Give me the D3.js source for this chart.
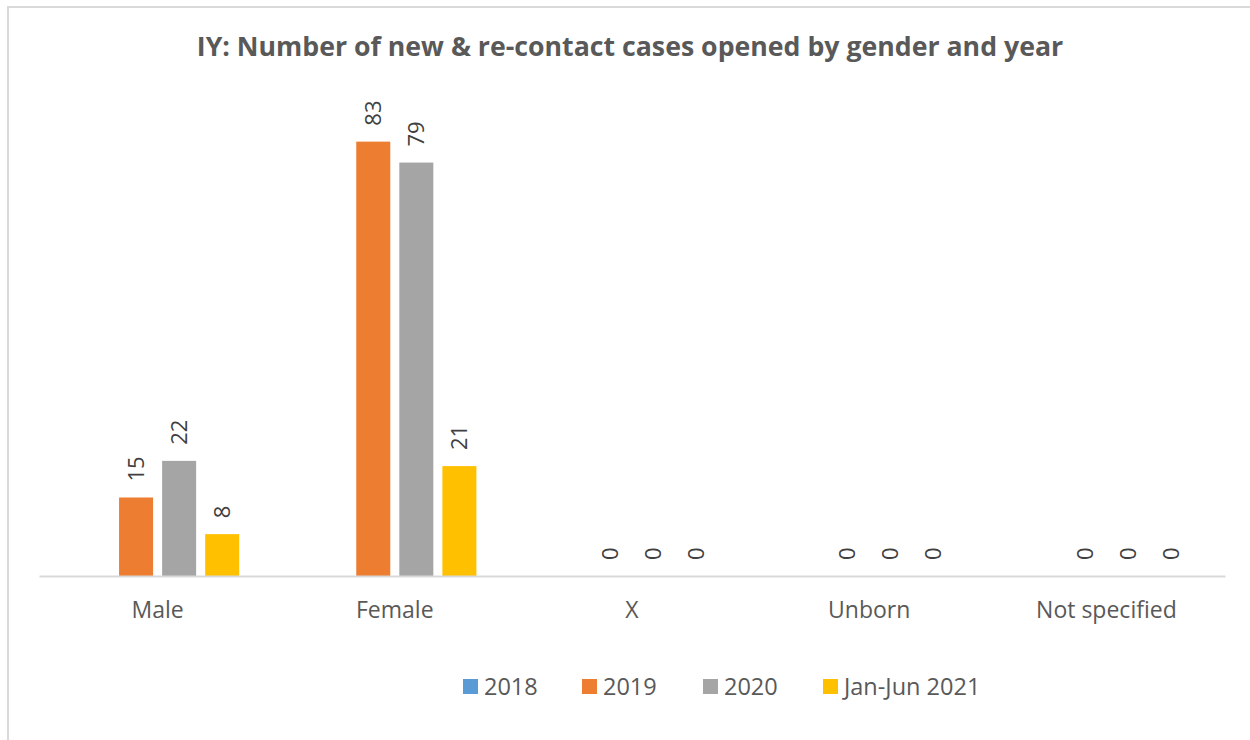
<!DOCTYPE html>
<html>
<head>
<meta charset="utf-8">
<script src="https://cdn.jsdelivr.net/npm/d3@7"></script>
<style>
  body { margin: 0; background: #fff; }
  svg text { font-family: "Open Sans", sans-serif; }
</style>
</head>
<body>
<svg width="1250" height="740"></svg>
<script>
var categories = ["Male", "Female", "X", "Unborn", "Not specified"];
var seriesNames = ["2018", "2019", "2020", "Jan-Jun 2021"];
var v2018 = [null, null, null, null, null];
var v2019 = [15, 83, 0, 0, 0];
var v2020 = [22, 79, 0, 0, 0];
var v2021 = [8, 21, 0, 0, 0];
var seriesValues = [v2018, v2019, v2020, v2021];

var svg = d3.select("svg");

// chart frame
svg.append("rect")
    .attr("x", 8).attr("y", 7)
    .attr("width", 1260).attr("height", 760)
    .attr("fill", "none")
    .attr("stroke", "#d9d9d9")
    .attr("stroke-width", 2);

var x0 = d3.scaleBand()
    .domain(categories)
    .range([39, 1225]);

var x1 = d3.scaleBand()
    .domain(seriesNames)
    .range([x0.bandwidth() * 0.156, x0.bandwidth() * 0.844])
    .paddingInner(0.21);

var y = d3.scaleLinear()
    .domain([0, 90])
    .range([576, 105]);

var color = d3.scaleOrdinal()
    .domain(seriesNames)
    .range(["#5B9BD5", "#ED7D31", "#A5A5A5", "#FFC000"]);

// title
svg.append("text")
    .attr("x", 630)
    .attr("y", 56)
    .attr("text-anchor", "middle")
    .attr("fill", "#595959")
    .style("font-size", "26.7px")
    .style("font-weight", "bold")
    .text("IY: Number of new & re-contact cases opened by gender and year");

var rows = [];
seriesNames.forEach(function(s, i) {
  categories.forEach(function(c, j) {
    rows.push({series: s, cat: c, value: seriesValues[i][j]});
  });
});
var present = rows.filter(function(d) { return d.value !== null; });

var g = svg.append("g");

g.selectAll("rect.bar")
  .data(present)
  .enter().append("rect")
    .attr("class", "bar")
    .attr("x", function(d) { return x0(d.cat) + x1(d.series); })
    .attr("y", function(d) { return y(d.value); })
    .attr("width", x1.bandwidth())
    .attr("height", function(d) { return y(0) - y(d.value); })
    .attr("fill", function(d) { return color(d.series); });

// baseline axis
var axis = svg.append("g")
    .attr("transform", "translate(0," + y(0) + ")")
    .call(d3.axisBottom(x0).tickSize(0).tickPadding(26));
axis.select(".domain").attr("stroke", "#d9d9d9").attr("stroke-width", 2);
axis.selectAll("text")
    .attr("fill", "#595959")
    .style("font-size", "23px")
    .style("font-family", "'Open Sans', sans-serif");

// rotated value labels
g.selectAll("text.lbl")
  .data(present)
  .enter().append("text")
    .attr("class", "lbl")
    .attr("transform", function(d) {
      var cx = x0(d.cat) + x1(d.series) + x1.bandwidth() / 2;
      return "translate(" + cx + "," + (y(d.value) - 16) + ") rotate(-90)";
    })
    .attr("dy", "0.35em")
    .attr("fill", "#404040")
    .style("font-size", "22px")
    .text(function(d) { return d.value; });

// legend
var legendX = [463, 582, 703, 823];
var legend = svg.append("g").selectAll("g")
  .data(seriesNames)
  .enter().append("g")
    .attr("transform", function(d, i) { return "translate(" + legendX[i] + ",679)"; });

legend.append("rect")
    .attr("width", 15).attr("height", 15)
    .attr("fill", function(d) { return color(d); });

legend.append("text")
    .attr("x", 21)
    .attr("y", 7.5)
    .attr("dy", "0.36em")
    .attr("fill", "#595959")
    .style("font-size", "23.5px")
    .text(function(d) { return d; });
</script>
</body>
</html>
